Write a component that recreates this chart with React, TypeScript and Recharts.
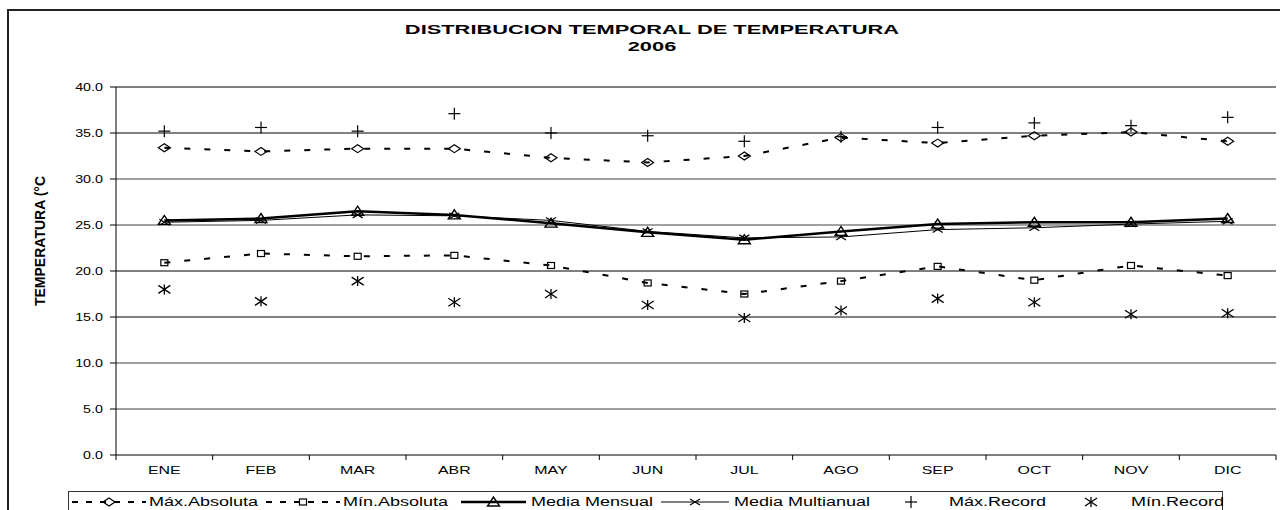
import React from 'react';
import { LineChart, Line, XAxis, YAxis, ReferenceLine } from 'recharts';

const MESES = ['ENE', 'FEB', 'MAR', 'ABR', 'MAY', 'JUN', 'JUL', 'AGO', 'SEP', 'OCT', 'NOV', 'DIC'];
const MAX_ABSOLUTA = [33.4, 33.0, 33.3, 33.3, 32.3, 31.8, 32.5, 34.5, 33.9, 34.7, 35.1, 34.1];
const MIN_ABSOLUTA = [20.9, 21.9, 21.6, 21.7, 20.6, 18.7, 17.5, 18.9, 20.5, 19.0, 20.6, 19.5];
const MEDIA_MENSUAL = [25.5, 25.7, 26.5, 26.1, 25.2, 24.2, 23.4, 24.3, 25.1, 25.3, 25.3, 25.7];
const MEDIA_MULTIANUAL = [25.3, 25.5, 26.1, 26.0, 25.5, 24.3, 23.6, 23.7, 24.5, 24.7, 25.1, 25.4];
const MAX_RECORD = [35.2, 35.6, 35.2, 37.1, 35.0, 34.7, 34.1, 34.6, 35.6, 36.1, 35.8, 36.7];
const MIN_RECORD = [18.0, 16.7, 18.9, 16.6, 17.5, 16.3, 14.9, 15.7, 17.0, 16.6, 15.3, 15.4];
const Y_TICKS = [0, 5, 10, 15, 20, 25, 30, 35, 40];
const GRIS_GRID = [5, 10, 25, 30];

const DATA = MESES.map((mes, i) => ({
  mes,
  maxAbs: MAX_ABSOLUTA[i],
  minAbs: MIN_ABSOLUTA[i],
  mensual: MEDIA_MENSUAL[i],
  multianual: MEDIA_MULTIANUAL[i],
  maxRec: MAX_RECORD[i],
  minRec: MIN_RECORD[i],
}));

type Kind = 'diamond' | 'square' | 'triangle' | 'cross' | 'plus' | 'star';

const SERIES: { key: string; name: string; kind: Kind; width: number; dash?: string; line: boolean }[] = [
  { key: 'maxAbs', name: 'Máx.Absoluta', kind: 'diamond', width: 2, dash: '6 14', line: true },
  { key: 'minAbs', name: 'Mín.Absoluta', kind: 'square', width: 2, dash: '6 14', line: true },
  { key: 'mensual', name: 'Media Mensual', kind: 'triangle', width: 2.5, line: true },
  { key: 'multianual', name: 'Media Multianual', kind: 'cross', width: 1, line: true },
  { key: 'maxRec', name: 'Máx.Record', kind: 'plus', width: 1, line: false },
  { key: 'minRec', name: 'Mín.Record', kind: 'star', width: 1, line: false },
];

// layout
const W = 1280;
const H = 510;
const MARGIN = { top: 87, right: 4, bottom: 25, left: 0 };
const Y_W = 116;
const X_H = 30;
const HALF_BAND = (W - MARGIN.left - MARGIN.right - Y_W) / MESES.length / 2;
const FONT = '"Liberation Sans", Arial, sans-serif';
const LEGEND_SYM = [71, 265, 460, 660, 900, 1080];
const LEGEND_SYM_W = [74, 74, 65, 68, 20, 20];
const LEGEND_TXT = [148, 342, 530, 733, 948, 1130];

function Marker({ kind, cx, cy }: { kind: Kind; cx: number; cy: number }) {
  const s = { stroke: '#000', strokeWidth: 1.2, fill: 'none' };
  switch (kind) {
    case 'diamond':
      return <polygon points={`${cx - 6},${cy} ${cx},${cy - 4} ${cx + 6},${cy} ${cx},${cy + 4}`} {...s} />;
    case 'square':
      return <rect x={cx - 3.5} y={cy - 3} width={7} height={6} {...s} />;
    case 'triangle':
      return <polygon points={`${cx - 6},${cy + 4} ${cx + 6},${cy + 4} ${cx},${cy - 5}`} {...s} strokeWidth={1.4} />;
    case 'cross':
      return (
        <g {...s}>
          <line x1={cx - 5} y1={cy - 3} x2={cx + 5} y2={cy + 3} />
          <line x1={cx - 5} y1={cy + 3} x2={cx + 5} y2={cy - 3} />
        </g>
      );
    case 'plus':
      return (
        <g {...s}>
          <line x1={cx - 6} y1={cy} x2={cx + 6} y2={cy} />
          <line x1={cx} y1={cy - 6} x2={cx} y2={cy + 6} />
        </g>
      );
    case 'star':
      return (
        <g {...s} strokeWidth={1.3}>
          <line x1={cx - 6} y1={cy - 4} x2={cx + 6} y2={cy + 4} />
          <line x1={cx - 6} y1={cy + 4} x2={cx + 6} y2={cy - 4} />
          <line x1={cx} y1={cy - 5} x2={cx} y2={cy + 5} />
        </g>
      );
  }
  return null;
}

const XTick = (props: any) => {
  const { x, y, payload, index } = props;
  return (
    <g>
      <line x1={x - HALF_BAND} x2={x - HALF_BAND} y1={y} y2={y + 5} stroke="#000" />
      {index === MESES.length - 1 && <line x1={x + HALF_BAND} x2={x + HALF_BAND} y1={y} y2={y + 5} stroke="#000" />}
      <g transform={`translate(${x},${y + 19})`}>
        <text transform="scale(1.45,1)" textAnchor="middle" fontSize={11} fontFamily={FONT} fill="#000">
          {payload.value}
        </text>
      </g>
    </g>
  );
};

const YTick = (props: any) => {
  const { x, y, payload } = props;
  return (
    <g transform={`translate(${x},${y + 4})`}>
      <text transform="scale(1.3,1)" textAnchor="end" fontSize={11} fontFamily={FONT} fill="#000">
        {Number(payload.value).toFixed(1)}
      </text>
    </g>
  );
};

const stretch = (k: number): React.CSSProperties => ({
  display: 'inline-block',
  transform: `scaleX(${k})`,
  transformOrigin: 'left center',
  whiteSpace: 'nowrap',
});

function Leyenda() {
  return (
    <div
      style={{
        position: 'absolute',
        left: 68,
        top: 491,
        width: 1155,
        height: 26,
        border: '1.5px solid #333',
        boxSizing: 'border-box',
      }}
    >
      {SERIES.map((s, i) => {
        const sw = LEGEND_SYM_W[i];
        return (
          <React.Fragment key={s.key}>
            <svg
              width={sw}
              height={16}
              style={{ position: 'absolute', left: LEGEND_SYM[i] - 68, top: 2 }}
            >
              {s.line && (
                <line x1={0} x2={sw} y1={8} y2={8} stroke="#000" strokeWidth={s.width} strokeDasharray={s.dash ? '6 8' : undefined} />
              )}
              <Marker kind={s.kind} cx={sw / 2} cy={8} />
            </svg>
            <span
              style={{
                ...stretch(1.5),
                position: 'absolute',
                left: LEGEND_TXT[i] - 68,
                top: 2,
                fontSize: 12,
                lineHeight: '16px',
                fontFamily: FONT,
              }}
            >
              {s.name}
            </span>
          </React.Fragment>
        );
      })}
    </div>
  );
}

export default function App() {
  return (
    <div style={{ position: 'fixed', left: 0, top: 0, width: W, height: H, background: '#fff', overflow: 'hidden' }}>
      <div style={{ position: 'absolute', left: 7, top: 9, width: 1300, height: 540, border: '2px solid #222' }} />
      <div
        style={{
          position: 'absolute',
          left: 652,
          top: 21,
          transform: 'translateX(-50%) scaleX(1.68)',
          fontFamily: FONT,
          fontWeight: 'bold',
          fontSize: 13,
          lineHeight: '17px',
          textAlign: 'center',
          whiteSpace: 'nowrap',
        }}
      >
        DISTRIBUCION TEMPORAL DE TEMPERATURA
        <br />
        2006
      </div>
      <div style={{ position: 'absolute', left: 0, top: 0 }}>
        <LineChart width={W} height={H} data={DATA} margin={MARGIN}>
          {Y_TICKS.filter((v) => v > 0).map((v) => (
            <ReferenceLine
              key={v}
              y={v}
              stroke={GRIS_GRID.includes(v) ? '#808080' : '#000'}
              strokeWidth={GRIS_GRID.includes(v) ? 1.6 : 1}
            />
          ))}
          <XAxis
            dataKey="mes"
            height={X_H}
            padding={{ left: HALF_BAND, right: HALF_BAND }}
            tickLine={false}
            tickSize={0}
            tickMargin={0}
            axisLine={{ stroke: '#000' }}
            tick={<XTick />}
            interval={0}
          />
          <YAxis
            width={Y_W}
            domain={[0, 40]}
            ticks={Y_TICKS}
            interval={0}
            tickSize={6}
            tickMargin={7}
            tickLine={{ stroke: '#000' }}
            axisLine={{ stroke: '#000' }}
            tick={<YTick />}
            label={{
              content: () => (
                <text
                  x={40}
                  y={241}
                  transform="rotate(-90 40 241)"
                  textAnchor="middle"
                  dominantBaseline="central"
                  fontSize={14}
                  fontWeight="bold"
                  fontFamily={FONT}
                  fill="#000"
                >
                  TEMPERATURA (°C
                </text>
              ),
            }}
          />
          <YAxis
            yAxisId="r"
            orientation="right"
            width={0}
            domain={[0, 40]}
            tick={false}
            tickLine={false}
            axisLine={{ stroke: '#000' }}
          />
          {SERIES.map((s) => (
            <Line
              key={s.key}
              type="linear"
              dataKey={s.key}
              name={s.name}
              stroke={s.line ? '#000' : 'none'}
              strokeWidth={s.width}
              strokeDasharray={s.dash}
              dot={(p: any) => <Marker key={`${s.key}-${p.index}`} kind={s.kind} cx={p.cx} cy={p.cy} />}
              activeDot={false}
              isAnimationActive={false}
            />
          ))}
        </LineChart>
      </div>
      <Leyenda />
    </div>
  );
}
